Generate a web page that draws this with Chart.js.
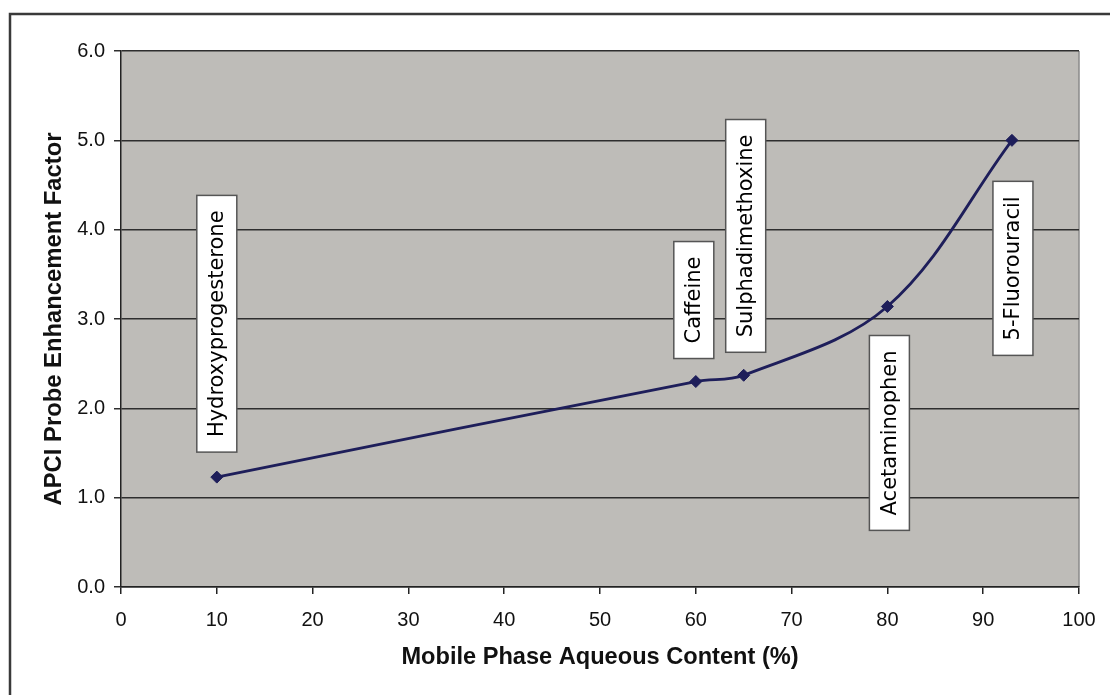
<!DOCTYPE html>
<html><head><meta charset="utf-8">
<script src="https://cdn.jsdelivr.net/npm/chart.js@4.4.1/dist/chart.umd.min.js"></script>
<style>html,body{margin:0;padding:0;background:#fff;overflow:hidden}canvas{display:block}</style>
</head><body>
<canvas id="c" width="1110" height="695" style="width:1110px;height:695px"></canvas>
<script>
// ---- data ----
const compounds = ['Hydroxyprogesterone', 'Caffeine', 'Sulphadimethoxine', 'Acetaminophen', '5-Fluorouracil'];
const aqueousContent = [10, 60, 65, 80, 93];
const enhancementFactor = [1.23, 2.30, 2.37, 3.14, 5.00];
const xTickValues = [0, 10, 20, 30, 40, 50, 60, 70, 80, 90, 100];
const yTickValues = [0, 1, 2, 3, 4, 5, 6];
const xTitle = 'Mobile Phase Aqueous Content (%)';
const yTitle = 'APCI Probe Enhancement Factor';

// label placement (layout only)
const labelLayout = [
  {side: 'above', gap: 25, dx: 0},
  {side: 'above', gap: 23, dx: -2},
  {side: 'above', gap: 23, dx: 2},
  {side: 'below', gap: 29, dx: 2},
  {side: 'below', gap: 41, dx: 1}
];

const points = aqueousContent.map((x, i) => ({x: x, y: enhancementFactor[i]}));

const framePlugin = {
  id: 'frame',
  beforeDraw(chart) {
    const {ctx, chartArea: a} = chart;
    ctx.save();
    ctx.fillStyle = '#ffffff';
    ctx.fillRect(0, 0, chart.width, chart.height);
    ctx.strokeStyle = '#3a3a3a';
    ctx.lineWidth = 2.5;
    ctx.beginPath();
    ctx.moveTo(10, chart.height + 5);
    ctx.lineTo(10, 14);
    ctx.lineTo(chart.width + 5, 14);
    ctx.stroke();
    ctx.fillStyle = '#bebcb8';
    ctx.fillRect(a.left, a.top, a.right - a.left, a.bottom - a.top);
    ctx.strokeStyle = '#8a8a8a';
    ctx.lineWidth = 1.5;
    ctx.beginPath();
    ctx.moveTo(a.right, a.top);
    ctx.lineTo(a.right, a.bottom);
    ctx.stroke();
    ctx.restore();
  }
};

const labelPlugin = {
  id: 'compoundLabels',
  afterDatasetsDraw(chart) {
    const {ctx} = chart;
    const meta = chart.getDatasetMeta(0);
    ctx.save();
    ctx.font = '21px "DejaVu Sans", Verdana, sans-serif';
    meta.data.forEach((el, i) => {
      const text = compounds[i];
      const lay = labelLayout[i];
      const tw = ctx.measureText(text).width;
      const len = tw + 30;
      const w = 40;
      const cx = el.x + lay.dx;
      let top, bottom;
      if (lay.side === 'above') { bottom = el.y - lay.gap; top = bottom - len; }
      else { top = el.y + lay.gap; bottom = top + len; }
      ctx.fillStyle = '#ffffff';
      ctx.fillRect(cx - w / 2, top, w, len);
      ctx.strokeStyle = '#555555';
      ctx.lineWidth = 1.5;
      ctx.strokeRect(cx - w / 2, top, w, len);
      ctx.save();
      ctx.translate(cx + 1, (top + bottom) / 2);
      ctx.rotate(-Math.PI / 2);
      ctx.fillStyle = '#000000';
      ctx.textAlign = 'center';
      ctx.textBaseline = 'middle';
      ctx.fillText(text, 0, 0);
      ctx.restore();
    });
    ctx.restore();
  }
};

new Chart(document.getElementById('c'), {
  type: 'scatter',
  data: {
    datasets: [{
      data: points,
      showLine: true,
      tension: 0.35,
      borderColor: '#1e1e5a',
      backgroundColor: '#1e1e5a',
      borderWidth: 2.8,
      pointStyle: 'rectRot',
      pointRadius: 6,
      pointHoverRadius: 6,
      pointBorderWidth: 1
    }]
  },
  options: {
    responsive: false,
    animation: false,
    devicePixelRatio: 1,
    layout: {padding: {left: 0, top: 51, right: 31, bottom: 0}},
    plugins: {legend: {display: false}, tooltip: {enabled: false}},
    scales: {
      x: {
        type: 'linear', min: 0, max: 100,
        afterBuildTicks(scale) { scale.ticks = xTickValues.map(v => ({value: v})); },
        afterFit(scale) { scale.height = 108; },
        ticks: {color: '#111', padding: 14, font: {family: '"Liberation Sans", Arial, sans-serif', size: 20}},
        grid: {drawOnChartArea: false, drawTicks: true, tickLength: 7, color: '#222', lineWidth: 1.5},
        border: {display: true, color: '#222', width: 1.5},
        title: {display: true, text: xTitle, color: '#111', padding: {top: 0, bottom: 23},
          font: {family: '"Liberation Sans", Arial, sans-serif', size: 23.6, weight: 'bold'}}
      },
      y: {
        type: 'linear', min: 0, max: 6,
        afterBuildTicks(scale) { scale.ticks = yTickValues.map(v => ({value: v})); },
        afterFit(scale) { scale.width = 121; },
        ticks: {color: '#111', padding: 9, callback: v => v.toFixed(1),
          font: {family: '"Liberation Sans", Arial, sans-serif', size: 20}},
        grid: {drawOnChartArea: true, drawTicks: true, tickLength: 7, color: '#2e2e2e', lineWidth: 1.5},
        border: {display: true, color: '#222', width: 1.5},
        title: {display: true, text: yTitle, color: '#111', padding: {top: 40, bottom: 0},
          font: {family: '"Liberation Sans", Arial, sans-serif', size: 23.8, weight: 'bold'}}
      }
    }
  },
  plugins: [framePlugin, labelPlugin]
});
</script>
</body></html>
